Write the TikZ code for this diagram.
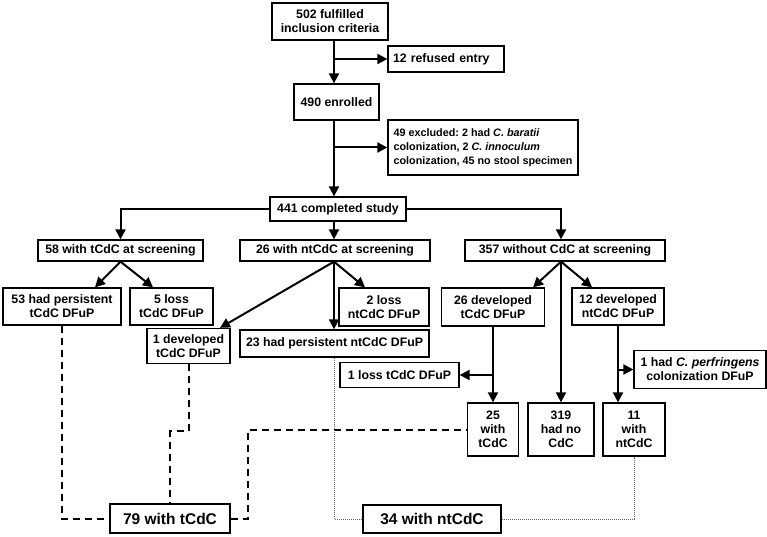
\documentclass[tikz,border=0pt]{standalone}
\usepackage{fontspec}
\setmainfont{Liberation Sans}
\usetikzlibrary{arrows.meta,positioning,calc}

\begin{document}
\begin{tikzpicture}[x=1pt,y=-1pt,
	box/.style={rectangle, draw, line width=1.3pt, fill=white, inner sep=0pt, align=center, font=\frenchspacing\bfseries\fontsize{12.3}{14}\selectfont},
	lbox/.style={box, align=left, inner xsep=3pt},
	arr/.style={line width=2pt, -{Triangle[length=10pt,width=10pt]}},
	dashline/.style={line width=2pt, dash pattern=on 7pt off 5pt},
	dotline/.style={line width=0.9pt, black!60, dash pattern=on 1pt off 1pt}]
	\useasboundingbox (0,0) rectangle (767,537);
	\coordinate (sp) at (334,0);
	\coordinate (k3) at (561,0);
	
	% enrolment
	\node[box, minimum width=116pt, minimum height=37pt] (b502) at (330,21.5) {502 fulfilled\\inclusion criteria};
	\node[lbox, inner xsep=5pt, text width=106pt, minimum height=26pt] (b12) at (446,59) {12 refused entry};
	\node[box, minimum width=85pt, minimum height=36pt] (b490) at (336.5,102) {490 enrolled};
	\node[lbox, minimum width=190pt, minimum height=55pt, font=\frenchspacing\bfseries\fontsize{10.8}{14}\selectfont] (b49) at (483,147.5) {49 excluded: 2 had \textit{C. baratii}\\colonization, 2 \textit{C. innoculum}\\colonization, 45 no stool specimen};
	\node[box, minimum width=136pt, minimum height=24pt] (b441) at (338,209) {441 completed study};
	
	\draw[arr] (b502.south -| sp) -- (b490.north -| sp);
	\draw[arr] (b12.west -| sp) -- (b12.west);
	\draw[arr] (b490.south -| sp) -- (b441.north -| sp);
	\draw[arr] (b49.west -| sp) -- (b49.west);
	
	% screening
	\node[box, minimum width=165pt, minimum height=21pt] (b58) at (120.5,250.5) {58 with tCdC at screening};
	\node[box, minimum width=190pt, minimum height=21pt] (b26) at (335,250.5) {26 with ntCdC at screening};
	\node[box, minimum width=200pt, minimum height=21pt] (b357) at (565,250.5) {357 without CdC at screening};
	
	\draw[arr] (b441.west) -| (b58.north);
	\draw[arr] (b441.south -| sp) -- (b26.north -| sp);
	\draw[arr] (b441.east) -| (b357.north -| k3);
	
	% follow-up
	\node[box, minimum width=118pt, minimum height=37pt] (b53) at (62,306.5) {53 had persistent\\tCdC DFuP};
	\node[box, minimum width=83pt, minimum height=37pt] (b5) at (171.5,306.5) {5 loss\\tCdC DFuP};
	\node[box, minimum width=83pt, minimum height=35pt] (b1dev) at (188.5,346) {1 developed\\tCdC DFuP};
	\node[box, minimum width=90pt, minimum height=38pt] (b2) at (384,307) {2 loss\\ntCdC DFuP};
	\node[box, minimum width=189pt, minimum height=27pt] (b23) at (334.5,343.5) {23 had persistent ntCdC DFuP};
	\node[box, minimum width=103pt, minimum height=38pt] (b26dev) at (493,307) {26 developed\\tCdC DFuP};
	\node[box, minimum width=92pt, minimum height=37pt] (b12dev) at (618,306.5) {12 developed\\ntCdC DFuP};
	
	\draw[arr] (b58.south) -- ([xshift=33pt]b53.north);
	\draw[arr] (b58.south) -- ([xshift=-18.5pt]b5.north);
	\draw[arr] (b26.south -| sp) -- ([xshift=31.5pt]b1dev.north);
	\draw[arr] (b26.south -| sp) -- (b23.north -| sp);
	\draw[arr] (b26.south -| sp) -- ([xshift=-19pt]b2.north);
	
	% outcome of the CdC-free group
	\node[box, minimum width=119pt, minimum height=25pt] (b1loss) at (399.5,375) {1 loss tCdC DFuP};
	\node[box, minimum width=132pt, minimum height=38pt] (b1perf) at (700,369.5) {1 had \textit{C. perfringens}\\colonization DFuP};
	\node[box, minimum width=51pt, minimum height=53pt] (b25) at (493,429.5) {25\\with\\tCdC};
	\node[box, minimum width=66pt, minimum height=53pt] (b319) at (561,429.5) {319\\had no\\CdC};
	\node[box, minimum width=62pt, minimum height=53pt] (b11) at (634,429.5) {11\\with\\ntCdC};
	
	\draw[arr] (b357.south -| k3) -- ([xshift=40pt]b26dev.north);
	\draw[arr] (b357.south -| k3) -- (b319.north);
	\draw[arr] (b357.south -| k3) -- ([xshift=-26pt]b12dev.north);
	\draw[arr] (b26dev.south) -- (b25.north);
	\draw[arr] (b1loss.east -| b25.north) -- (b1loss.east);
	\draw[arr] (b12dev.south) -- (b11.north -| b12dev.south);
	\draw[arr] (b1perf.west -| b12dev.south) -- (b1perf.west);
	
	% totals
	\node[box, minimum width=120pt, minimum height=29pt, font=\bfseries\fontsize{15.5}{18}\selectfont] (b79) at (170,518.5) {79 with tCdC};
	\node[box, minimum width=138pt, minimum height=28pt, font=\bfseries\fontsize{15.5}{18}\selectfont] (b34) at (432,519) {34 with ntCdC};
	
	\draw[dashline] (b53.south) |- (b79.west);
	\draw[dashline] (b1dev.south) -- ++(0,67) -| (b79.north);
	\draw[dashline] (b79.east) -- ++(17,0) |- (b25.west);
	\draw[dotline] (b23.south) |- (b34.west);
	\draw[dotline] (b34.east) -| (b11.south);
\end{tikzpicture}
\end{document}
